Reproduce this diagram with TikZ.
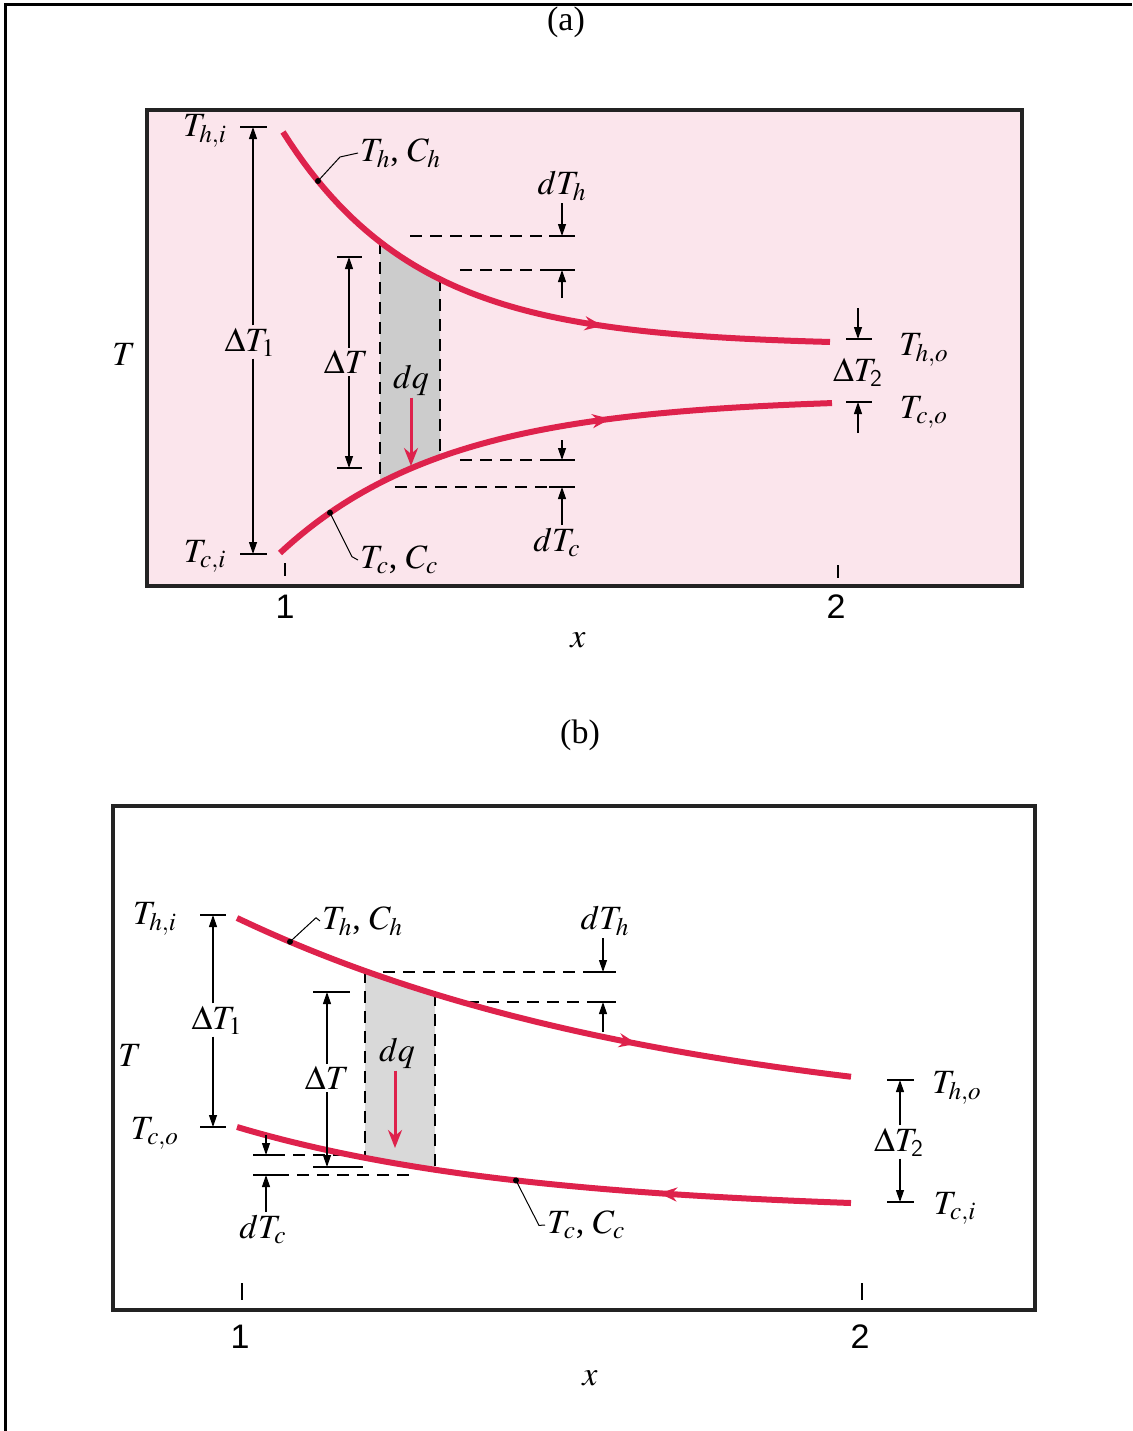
\documentclass[tikz,border=0pt]{standalone}
\usepackage{mathptmx}
\usepackage{fontspec}
\setmainfont{Liberation Serif}
\setsansfont{Liberation Sans}
\usetikzlibrary{arrows.meta, decorations.markings}

\definecolor{pinkbg}{RGB}{251,229,236}
\definecolor{curvered}{RGB}{222,34,76}
\definecolor{boxline}{RGB}{35,35,35}

% temperature profiles, in pixel units of the page
\newcommand{\hotA}[1]{345.6-213.6*exp(-0.00745*(#1-283))}
\newcommand{\coldA}[1]{397.4+155.6*exp(-0.006*(#1-280))}
\newcommand{\hotB}[1]{1130.3-212.3*exp(-0.00225*(#1-237))}
\newcommand{\coldB}[1]{1213.4-86.4*exp(-0.00345*(#1-237))}

\begin{document}
\begin{tikzpicture}[
  x=0.5pt, y=-0.5pt,
  every node/.style={font=\fontsize{17}{19}\selectfont, inner sep=1pt},
  hotcurve/.style={curvered, line width=3pt},
  flowmark/.style={postaction={decorate, decoration={markings,
      mark=at position #1 with {\arrow{Stealth[length=9pt,width=7pt]}}}}},
  backmark/.style={postaction={decorate, decoration={markings,
      mark=at position #1 with {\arrowreversed{Stealth[length=9pt,width=7pt]}}}}},
  dimarr/.style={-{Triangle[length=6pt,width=4pt]}, line width=0.6pt},
  tickbar/.style={line width=0.9pt},
  dashln/.style={dash pattern=on 6pt off 4pt, line width=0.8pt},
  leader/.style={line width=0.5pt},
  qarrow/.style={-{Stealth[length=9pt,width=7pt]}, curvered, line width=1.5pt},
  panel/.style={draw=boxline, line width=2pt},
  axlbl/.style={font=\fontsize{17}{19}\selectfont\sffamily},
]
\useasboundingbox (0,0) rectangle (1132,1431);

% --- outer frame ---
\draw[line width=1.5pt] (5,1431) -- (5,4) -- (1132,4);

% --- (a) parallel flow ---
\node (capa) at (566,22) {(a)};
\draw[panel, fill=pinkbg] (147,110) rectangle (1022,586);

\fill[gray!40] plot[domain=380:440, samples=20] (\x,{\hotA{\x}})
  -- plot[domain=440:380, samples=20] (\x,{\coldA{\x}}) -- cycle;
\draw[dashln] (380,{\hotA{380}}) -- (380,{\coldA{380}});
\draw[dashln] (440,{\hotA{440}}) -- (440,{\coldA{440}});
\draw[dashln] (410,236) -- (572,236);
\draw[dashln] (460,270) -- (572,270);
\draw[dashln] (460,460) -- (572,460);
\draw[dashln] (395,487) -- (572,487);

\draw[hotcurve, flowmark=0.63] plot[domain=283:830, samples=80] (\x,{\hotA{\x}});
\draw[hotcurve, flowmark=0.62] plot[domain=280:832, samples=80] (\x,{\coldA{\x}});

\node (Ta) at (124,354) {$T$};
\node (Thia) at (205,131) {$T_{h,i}$};
\node (Tcia) at (205,556) {$T_{c,i}$};

% overall difference at inlet
\draw[tickbar] (240,127) -- (267,127);
\draw[tickbar] (240,554) -- (267,554);
\coordinate (d1atop) at (253,127);
\coordinate (d1abot) at (253,554);
\node (d1a) at (250,342) {$\Delta T_1$};
\draw[dimarr] (d1a.north -| d1atop) -- (d1atop);
\draw[dimarr] (d1a.south -| d1abot) -- (d1abot);

% local difference
\draw[tickbar] (337,257) -- (362,257);
\draw[tickbar] (337,468) -- (362,468);
\coordinate (dlatop) at (349,257);
\coordinate (dlabot) at (349,468);
\node (dla) at (346,362) {$\Delta T$};
\draw[dimarr] (dla.north -| dlatop) -- (dlatop);
\draw[dimarr] (dla.south -| dlabot) -- (dlabot);

% heat through the element
\node (dqa) at (411,380) {$dq$};
\coordinate (qtipa) at (411,466);
\draw[qarrow] (dqa.south -| qtipa) -- (qtipa);

% curve labels
\coordinate (hdota) at (318,{\hotA{318}});
\coordinate (cdota) at (330,{\coldA{330}});
\fill (hdota) circle (1.5pt);
\fill (cdota) circle (1.5pt);
\node[anchor=west] (hlbla) at (358,153) {$T_h$, $C_h$};
\node[anchor=west] (clbla) at (358,560) {$T_c$, $C_c$};
\draw[leader] (hdota) -- ++(22,-24) -- (hlbla.west);
\draw[leader] (cdota) -- ++(22,44) -- (clbla.west);

% hot-side change
\draw[tickbar] (549,236) -- (575,236);
\draw[tickbar] (549,270) -- (575,270);
\node (dTha) at (562,186) {$dT_h$};
\coordinate (dthatop) at (562,236);
\coordinate (dthabot) at (562,270);
\coordinate (dthatail) at (562,298);
\draw[dimarr] (dTha.south -| dthatop) -- (dthatop);
\draw[dimarr] (dthatail) -- (dthabot);

% cold-side change
\draw[tickbar] (549,460) -- (575,460);
\draw[tickbar] (549,487) -- (575,487);
\node (dTca) at (557,542) {$dT_c$};
\coordinate (dtcatop) at (562,460);
\coordinate (dtcabot) at (562,487);
\coordinate (dtcatail) at (562,440);
\draw[dimarr] (dtcatail) -- (dtcatop);
\draw[dimarr] (dTca.north -| dtcabot) -- (dtcabot);

% outlet difference
\draw[tickbar] (846,339) -- (872,339);
\draw[tickbar] (846,402) -- (872,402);
\node (d2a) at (858,372) {$\Delta T_{\mathsf{2}}$};
\coordinate (d2atop) at (858,339);
\coordinate (d2abot) at (858,402);
\coordinate (d2atailt) at (858,308);
\coordinate (d2atailb) at (858,433);
\draw[dimarr] (d2atailt) -- (d2atop);
\draw[dimarr] (d2atailb) -- (d2abot);
\node (Thoa) at (924,350) {$T_{h,o}$};
\node (Tcoa) at (924,412) {$T_{c,o}$};

% x axis
\draw[line width=1pt] (285,563) -- (285,576);
\draw[line width=1pt] (838,565) -- (838,578);
\node[axlbl] (onea) at (285,607) {1};
\node[axlbl] (twoa) at (836,607) {2};
\node (xa) at (578,640) {$x$};

% --- (b) counterflow ---
\node (capb) at (580,735) {(b)};
\draw[panel] (113,806) rectangle (1035,1310);

\fill[gray!30] plot[domain=365:435, samples=20] (\x,{\hotB{\x}})
  -- plot[domain=435:365, samples=20] (\x,{\coldB{\x}}) -- cycle;
\draw[dashln] (365,{\hotB{365}}) -- (365,{\coldB{365}});
\draw[dashln] (435,{\hotB{435}}) -- (435,{\coldB{435}});
\draw[dashln] (383,972) -- (616,972);
\draw[dashln] (467,1002) -- (616,1002);
\draw[dashln] (253,1155) -- (357,1155);
\draw[dashln] (257,1175) -- (413,1175);

\draw[hotcurve, flowmark=0.66] plot[domain=237:851, samples=80] (\x,{\hotB{\x}});
\draw[hotcurve, backmark=0.69] plot[domain=237:851, samples=80] (\x,{\coldB{\x}});

\node (Tb) at (130,1055) {$T$};
\node (Thib) at (155,919) {$T_{h,i}$};
\node (Tcob) at (155,1133) {$T_{c,o}$};

% overall difference at x = 1
\draw[tickbar] (200,915) -- (226,915);
\draw[tickbar] (200,1127) -- (226,1127);
\coordinate (d1btop) at (213,915);
\coordinate (d1bbot) at (213,1127);
\node (d1b) at (217,1020) {$\Delta T_1$};
\draw[dimarr] (d1b.north -| d1btop) -- (d1btop);
\draw[dimarr] (d1b.south -| d1bbot) -- (d1bbot);

% local difference
\draw[tickbar] (313,992) -- (350,992);
\draw[tickbar] (313,1167) -- (363,1167);
\coordinate (dlbtop) at (327,992);
\coordinate (dlbbot) at (327,1167);
\node (dlb) at (327,1078) {$\Delta T$};
\draw[dimarr] (dlb.north -| dlbtop) -- (dlbtop);
\draw[dimarr] (dlb.south -| dlbbot) -- (dlbbot);

% heat through the element
\node (dqb) at (397,1053) {$dq$};
\coordinate (qtipb) at (395,1148);
\draw[qarrow] (dqb.south -| qtipb) -- (qtipb);

% curve labels
\coordinate (hdotb) at (290,{\hotB{290}});
\coordinate (cdotb) at (516,{\coldB{516}});
\fill (hdotb) circle (1.5pt);
\fill (cdotb) circle (1.5pt);
\node[anchor=west] (hlblb) at (320,921) {$T_h$, $C_h$};
\node[anchor=west] (clblb) at (545,1225) {$T_c$, $C_c$};
\draw[leader] (hdotb) -- ++(26,-24) -- (hlblb.west);
\draw[leader] (cdotb) -- ++(23,45) -- (clblb.west);

% hot-side change
\draw[tickbar] (590,972) -- (616,972);
\draw[tickbar] (590,1002) -- (616,1002);
\node (dThb) at (605,921) {$dT_h$};
\coordinate (dthbtop) at (603,972);
\coordinate (dthbbot) at (603,1002);
\coordinate (dthbtail) at (603,1032);
\draw[dimarr] (dThb.south -| dthbtop) -- (dthbtop);
\draw[dimarr] (dthbtail) -- (dthbbot);

% cold-side change
\draw[tickbar] (253,1155) -- (280,1155);
\draw[tickbar] (253,1175) -- (280,1175);
\node (dTcb) at (263,1229) {$dT_c$};
\coordinate (dtcbtop) at (266,1155);
\coordinate (dtcbbot) at (266,1175);
\coordinate (dtcbtail) at (266,1135);
\draw[dimarr] (dtcbtail) -- (dtcbtop);
\draw[dimarr] (dTcb.north -| dtcbbot) -- (dtcbbot);

% difference at x = 2
\draw[tickbar] (887,1080) -- (914,1080);
\draw[tickbar] (887,1202) -- (914,1202);
\node (d2b) at (899,1142) {$\Delta T_{\mathsf{2}}$};
\coordinate (d2btop) at (900,1080);
\coordinate (d2bbot) at (900,1202);
\draw[dimarr] (d2b.north -| d2btop) -- (d2btop);
\draw[dimarr] (d2b.south -| d2bbot) -- (d2bbot);
\node (Thob) at (957,1088) {$T_{h,o}$};
\node (Tcib) at (955,1208) {$T_{c,i}$};

% x axis
\draw[line width=1pt] (242,1283) -- (242,1300);
\draw[line width=1pt] (862,1283) -- (862,1300);
\node[axlbl] (oneb) at (240,1337) {1};
\node[axlbl] (twob) at (860,1337) {2};
\node (xb) at (590,1378) {$x$};

\end{tikzpicture}
\end{document}
